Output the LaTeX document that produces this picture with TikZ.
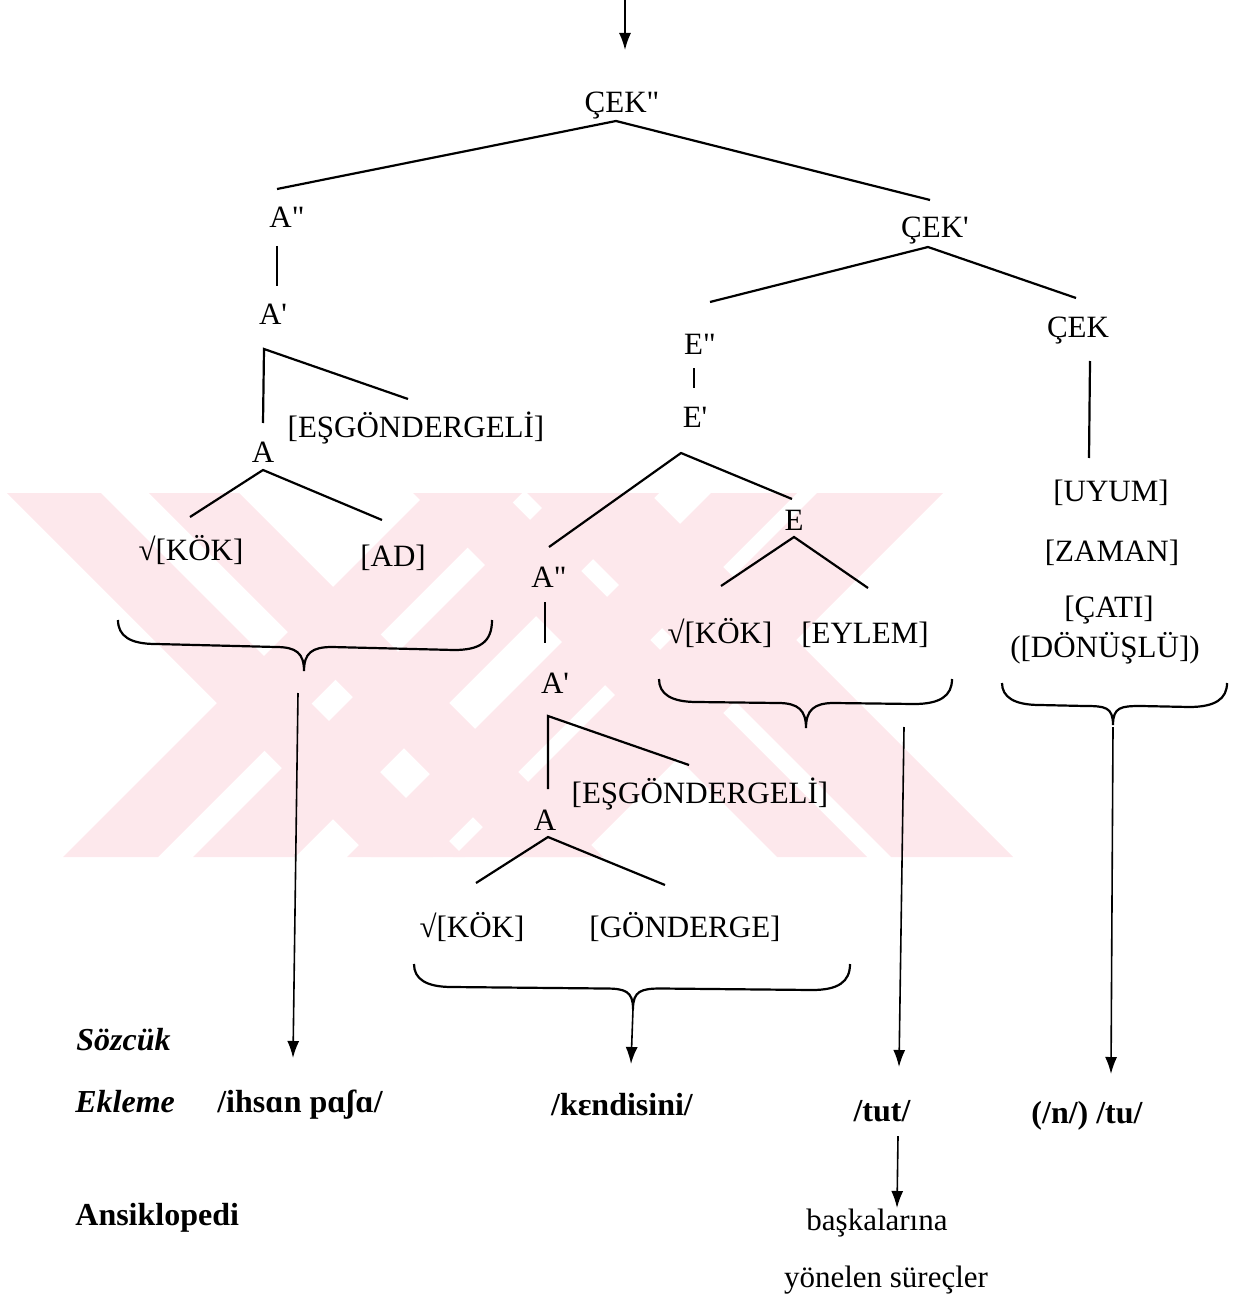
\documentclass[tikz,border=0pt]{standalone}
\usepackage{fontspec}
\setmainfont{Liberation Serif}
\usetikzlibrary{arrows.meta}
\definecolor{wm}{RGB}{253,232,236}
\tikzset{
  lbl/.style={font=\fontsize{15.5}{18}\selectfont, inner sep=0pt, anchor=base},
  blbl/.style={font=\fontsize{16}{19}\selectfont\bfseries, inner sep=0pt, anchor=base},
  bilbl/.style={font=\fontsize{16}{19}\selectfont\bfseries\itshape, inner sep=0pt, anchor=base west},
  edge/.style={line width=1.1pt},
  arr/.style={line width=0.8pt, -{Latex[length=8.5pt,width=6pt]}},
  bracestyle/.style={line width=1.1pt},
  wmk/.style={fill=wm, draw=none},
}
% brace: x1, x2, ytop, yflatL, yflatR, xtip, ytip
\newcommand{\tbrace}[7]{%
  \draw[bracestyle] (#1,#3) .. controls (#1,#4-8) and (#1+12,#4) .. (#1+38,#4)
    -- (#6-28,{(#4+#5)/2}) .. controls (#6-8,{(#4+#5)/2}) and (#6,#7-18) .. (#6,#7)
    .. controls (#6,#7-18) and (#6+8,{(#4+#5)/2}) .. (#6+28,{(#4+#5)/2})
    -- (#2-38,#5) .. controls (#2-12,#5) and (#2,#5-8) .. (#2,#3);}
\begin{document}
\begin{tikzpicture}[x=0.5pt,y=-0.5pt]
\useasboundingbox (0,0) rectangle (1248,1299);
% watermark
\fill[wmk] (7,493)--(101,493)--(465,857)--(371,857)--cycle;
\fill[wmk] (149,493)--(239,493)--(603,857)--(513,857)--cycle;
\fill[wmk] (427,493)--(522,493)--(158,857)--(63,857)--cycle;
\fill[wmk] (557,493)--(659,493)--(295,857)--(193,857)--cycle;
\fill[wmk] (413,493)--(503,493)--(867,857)--(777,857)--cycle;
\fill[wmk] (527,493)--(649,493)--(1013,857)--(891,857)--cycle;
\fill[wmk] (711,493)--(797,493)--(433,857)--(347,857)--cycle;
\fill[wmk] (817,493)--(943,493)--(579,857)--(453,857)--cycle;

% labels
\node[lbl] (cekpp) at (622,113) {ÇEK\textquotedbl};
\node[lbl] (app) at (287,228) {A\textquotedbl};
\node[lbl] (cekp) at (935,238) {ÇEK\textquotesingle};
\node[lbl] (ap) at (273,325) {A\textquotesingle};
\node[lbl] (cek) at (1078,337) {ÇEK};
\node[lbl] (epp) at (700,354) {E\textquotedbl};
\node[lbl] (esg1) at (416,437) {[EŞGÖNDERGELİ]};
\node[lbl] (ep) at (695,427) {E\textquotesingle};
\node[lbl] (a1) at (263,462) {A};
\node[lbl] (kok1) at (191,560) {√[KÖK]};
\node[lbl] (ad) at (393,566) {[AD]};
\node[lbl] (e) at (794,530) {E};
\node[lbl] (app2) at (549,587) {A\textquotedbl};
\node[lbl] (kok2) at (720,643) {√[KÖK]};
\node[lbl] (eylem) at (865,643) {[EYLEM]};
\node[lbl] (ap2) at (555,693) {A\textquotesingle};
\node[lbl] (uyum) at (1111,501) {[UYUM]};
\node[lbl] (zaman) at (1112,561) {[ZAMAN]};
\node[lbl] (cati) at (1109,617) {[ÇATI]};
\node[lbl] (donuslu) at (1105,657) {([DÖNÜŞLÜ])};
\node[lbl] (esg2) at (700,803) {[EŞGÖNDERGELİ]};
\node[lbl] (a2) at (545,830) {A};
\node[lbl] (kok3) at (472,937) {√[KÖK]};
\node[lbl] (gonderge) at (685,937) {[GÖNDERGE]};

\node[bilbl] (sozcuk) at (76,1050) {Sözcük};
\node[bilbl] (ekleme) at (75,1112) {Ekleme};
\node[blbl] (ihsan) at (300,1112) {/ihsɑn pɑʃɑ/};
\node[blbl] (kendi) at (622,1115) {/kɛndisini/};
\node[blbl] (tut) at (882,1121) {/tut/};
\node[blbl] (ntu) at (1087,1123) {(/n/) /tu/};
\node[blbl, anchor=base west] (ansik) at (75,1225) {Ansiklopedi};
\node[lbl] (bask) at (877,1230) {başkalarına};
\node[lbl] (yon) at (886,1287) {yönelen süreçler};

% named coordinates for edge ends
\coordinate (top) at (625,0);
\coordinate (cekppS) at (616,121);
\coordinate (appN) at (277,189);
\coordinate (cekpN) at (930,200);
\coordinate (appS) at (277,246);
\coordinate (apN) at (277,286);
\coordinate (apS) at (264,349);
\coordinate (esg1N) at (408,399);
\coordinate (a1N) at (263,423);
\coordinate (cekpS) at (928,247);
\coordinate (eppN) at (710,302);
\coordinate (cekN) at (1076,298);
\coordinate (eppS) at (694,368);
\coordinate (epN) at (694,388);
\coordinate (cekS) at (1090,361);
\coordinate (cekE) at (1089,458);
\coordinate (a1S) at (263,470);
\coordinate (kok1N) at (190,517);
\coordinate (adN) at (382,520);
\coordinate (epS) at (681,453);
\coordinate (app2N) at (549,547);
\coordinate (eN) at (792,499);
\coordinate (eS) at (794,537);
\coordinate (kok2N) at (721,586);
\coordinate (eylemN) at (868,588);
\coordinate (app2S) at (545,602);
\coordinate (ap2N) at (545,643);
\coordinate (ap2S) at (548,716);
\coordinate (esg2N) at (689,765);
\coordinate (a2N) at (548,789);
\coordinate (a2S) at (548,837);
\coordinate (kok3N) at (476,883);
\coordinate (gondN) at (665,885);

% tree edges
\draw[edge] (appN) -- (cekppS) -- (cekpN);
\draw[edge] (appS) -- (apN);
\draw[edge] (a1N) -- (apS) -- (esg1N);
\draw[edge] (eppN) -- (cekpS) -- (cekN);
\draw[edge] (eppS) -- (epN);
\draw[edge] (cekS) -- (cekE);
\draw[edge] (kok1N) -- (a1S) -- (adN);
\draw[edge] (app2N) -- (epS) -- (eN);
\draw[edge] (kok2N) -- (eS) -- (eylemN);
\draw[edge] (app2S) -- (ap2N);
\draw[edge] (a2N) -- (ap2S) -- (esg2N);
\draw[edge] (kok3N) -- (a2S) -- (gondN);

% braces
\tbrace{118}{492}{620}{644}{650}{304}{671}
\tbrace{659}{952}{679}{702}{704}{806}{728}
\tbrace{414}{850}{964}{987}{990}{633}{1009}
\tbrace{1002}{1227}{683}{705}{707}{1113}{725}

% arrows
\coordinate (b1) at (298,693);
\coordinate (b1e) at (293,1058);
\coordinate (b3) at (633,1009);
\coordinate (b3e) at (631,1064);
\coordinate (b2) at (904,727);
\coordinate (b2e) at (899,1067);
\coordinate (b4) at (1113,727);
\coordinate (b4e) at (1111,1074);
\coordinate (tutS) at (898,1136);
\coordinate (baskN) at (897,1208);
\draw[arr] (top) -- (625,50) coordinate (cekppN);
\draw[arr] (b1) -- (b1e);
\draw[arr] (b3) -- (b3e);
\draw[arr] (b2) -- (b2e);
\draw[arr] (b4) -- (b4e);
\draw[arr] (tutS) -- (baskN);
\end{tikzpicture}
\end{document}
